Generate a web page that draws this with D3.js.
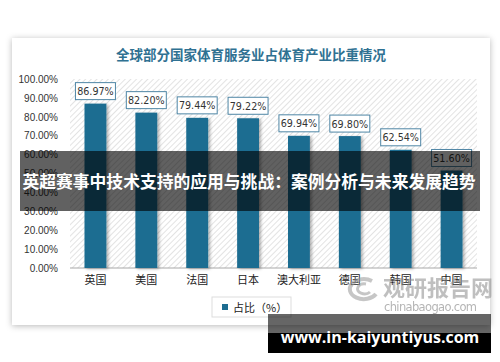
<!DOCTYPE html>
<html lang="zh">
<head>
<meta charset="UTF-8">
<script src="https://d3js.org/d3.v7.min.js"></script>
<style>
  body { margin: 0; background: #fff; }
  svg text { font-family: "Noto Sans CJK SC", "Noto Sans", sans-serif; }
</style>
</head>
<body>
<svg id="chart" width="500" height="362"></svg>
<script>
// data
const countries = ["英国", "美国", "法国", "日本", "澳大利亚", "德国", "韩国", "中国"];
const shares = [86.97, 82.20, 79.44, 79.22, 69.94, 69.80, 62.54, 51.60];
const yTicks = [0, 10, 20, 30, 40, 50, 60, 70, 80, 90, 100];

const svg = d3.select("#chart");
const defs = svg.append("defs");

// card shadow
const f = defs.append("filter").attr("id", "cardShadow")
  .attr("x", "-5%").attr("y", "-5%").attr("width", "110%").attr("height", "110%");
f.append("feDropShadow").attr("dx", 0).attr("dy", 1).attr("stdDeviation", 3)
  .attr("flood-color", "#000").attr("flood-opacity", 0.28);

const bs = defs.append("filter").attr("id", "barShadow")
  .attr("x", "-30%").attr("y", "-10%").attr("width", "170%").attr("height", "120%");
bs.append("feDropShadow").attr("dx", 2).attr("dy", 1).attr("stdDeviation", 1.5)
  .attr("flood-color", "#000").attr("flood-opacity", 0.3);

// hatched plot background
const pat = defs.append("pattern").attr("id", "hatch")
  .attr("patternUnits", "userSpaceOnUse").attr("width", 4).attr("height", 4)
  .attr("patternTransform", "rotate(45)");
pat.append("rect").attr("width", 4).attr("height", 4).attr("fill", "#fff");
pat.append("line").attr("x1", 0).attr("y1", 0).attr("x2", 0).attr("y2", 4)
  .attr("stroke", "#dcdcdc").attr("stroke-width", 1.6);

// card
svg.append("rect").attr("x", 12).attr("y", 38).attr("width", 478).attr("height", 287)
  .attr("fill", "#fff").attr("filter", "url(#cardShadow)");

// title
svg.append("text").attr("x", 251).attr("y", 60).attr("text-anchor", "middle")
  .attr("font-size", 13.5).attr("font-weight", "bold").attr("fill", "#2f7192")
  .text("全球部分国家体育服务业占体育产业比重情况");

const pLeft = 70, pRight = 477, pTop = 79, pBottom = 268;

const x = d3.scaleBand().domain(countries).range([pLeft, pRight]).paddingInner(0.57).paddingOuter(0.285);
const y = d3.scaleLinear().domain([0, 100]).range([pBottom, pTop]);

svg.append("rect").attr("x", pLeft).attr("y", pTop).attr("width", pRight - pLeft).attr("height", pBottom - pTop)
  .attr("fill", "url(#hatch)");

// y axis
const yAxis = svg.append("g").attr("transform", `translate(${pLeft},0)`)
  .call(d3.axisLeft(y).tickValues(yTicks).tickSize(0).tickPadding(12)
    .tickFormat(d => d.toFixed(2) + "%"));
yAxis.select(".domain").remove();
yAxis.selectAll("text").attr("font-size", 10).attr("fill", "#333")
  .style("font-family", "'Liberation Sans', Arial, sans-serif");

// baseline
svg.append("line").attr("x1", pLeft).attr("x2", pRight).attr("y1", pBottom).attr("y2", pBottom)
  .attr("stroke", "#a8a8a8").attr("stroke-width", 1);

// x axis
const xAxis = svg.append("g").attr("transform", `translate(0,${pBottom})`)
  .call(d3.axisBottom(x).tickSize(0).tickPadding(8));
xAxis.select(".domain").remove();
xAxis.selectAll("text").attr("font-size", 11).attr("fill", "#222");

// bars
svg.append("g").selectAll("rect").data(shares).join("rect")
  .attr("x", (d, i) => x(countries[i]))
  .attr("y", d => y(d))
  .attr("width", x.bandwidth())
  .attr("height", d => pBottom - y(d))
  .attr("fill", "#1d6d91")
  .attr("filter", "url(#barShadow)");

// value labels
const lab = svg.append("g").selectAll("g").data(shares).join("g")
  .attr("transform", (d, i) => `translate(${x(countries[i]) + x.bandwidth() / 2},${y(d) - 4})`);
lab.append("rect").attr("x", -20).attr("y", -17).attr("width", 40).attr("height", 17)
  .attr("fill", "#fff").attr("stroke", "#4f86a5").attr("stroke-width", 1);
lab.append("text").attr("y", -4.5).attr("text-anchor", "middle")
  .attr("fill", "#333").style("font-family", "'DejaVu Sans', sans-serif")
  .style("font-size", "9.6px")
  .text(d => d.toFixed(2) + "%");

// legend
const leg = svg.append("g").attr("transform", "translate(212,297)");
leg.append("rect").attr("width", 79).attr("height", 20).attr("fill", "#fff").attr("stroke", "#ddd");
leg.append("rect").attr("x", 10).attr("y", 7).attr("width", 6).attr("height", 6).attr("fill", "#1d6d91");
leg.append("text").attr("x", 21).attr("y", 14.5).attr("font-size", 11).attr("fill", "#222").text("占比（%）");

// watermark
const wm = svg.append("g").attr("opacity", 0.55);
wm.append("path").attr("d", "M372,281 A14,10 0 1 0 376,294")
  .attr("fill", "none").attr("stroke", "#999").attr("stroke-width", 4);
wm.append("path").attr("d", "M366,284 A7,5 0 1 0 370,292")
  .attr("fill", "none").attr("stroke", "#999").attr("stroke-width", 3);
wm.append("text").attr("x", 383).attr("y", 296).attr("font-size", 22).attr("font-weight", "bold")
  .attr("fill", "#8c8c8c").text("观研报告网");
wm.append("text").attr("x", 384).attr("y", 311).attr("font-size", 11.5).attr("fill", "#777")
  .style("font-family", "'DejaVu Sans', sans-serif").attr("textLength", 93).text("chinabaogao.com");

// overlay banners
svg.append("rect").attr("x", 20).attr("y", 151).attr("width", 460).attr("height", 60)
  .attr("fill", "#000").attr("opacity", 0.62);
svg.append("text").attr("x", 249).attr("y", 187.5).attr("text-anchor", "middle")
  .attr("font-size", 16.8).attr("font-weight", "bold").attr("fill", "#fff")
  .text("英超赛事中技术支持的应用与挑战：案例分析与未来发展趋势");

svg.append("rect").attr("x", 268).attr("y", 314).attr("width", 223).attr("height", 39)
  .attr("fill", "#000").attr("opacity", 0.6);
svg.append("rect").attr("x", 268).attr("y", 333).attr("width", 223).attr("height", 20)
  .attr("fill", "#000");
svg.append("text").attr("x", 380).attr("y", 343).attr("text-anchor", "middle")
  .attr("font-size", 16).attr("font-weight", "bold").attr("fill", "#fff")
  .style("font-family", "'Open Sans', 'DejaVu Sans', sans-serif")
  .text("www.in-kaiyuntiyus.com");
</script>
</body>
</html>
